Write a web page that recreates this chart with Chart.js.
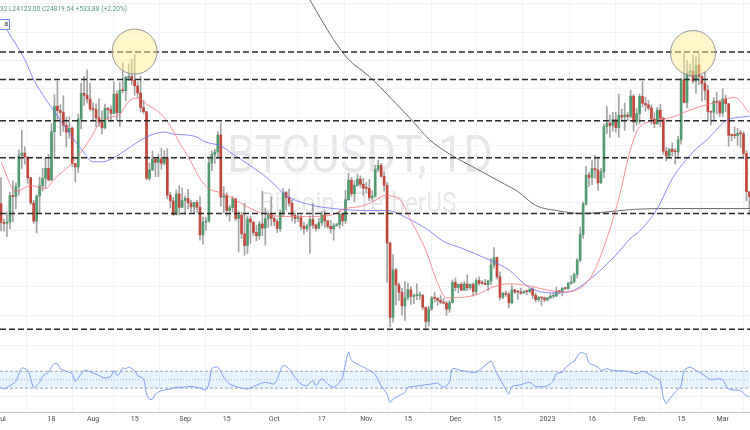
<!DOCTYPE html>
<html>
<head>
<meta charset="utf-8">
<title>BTCUSDT 1D</title>
<script src="https://cdn.jsdelivr.net/npm/chart.js@4.4.1/dist/chart.umd.min.js"></script>
<style>
  html, body { margin: 0; padding: 0; background: #fff; }
  #box { position: relative; width: 750px; height: 430px; overflow: hidden; }
  #legend { position: absolute; left: 0; top: 5px; font: 6.6px Roboto, sans-serif; line-height: 9px; color: #4f9a77; white-space: nowrap; }
  #tag { position: absolute; left: -4px; top: 19px; width: 11px; height: 9px; border: 1px solid #7089f4; background: #fff; font: 7px Roboto, sans-serif; line-height: 9px; text-align: right; color: #333; padding-right: 1px; }
</style>
</head>
<body>
<div id="box">
  <canvas id="chart" width="750" height="430"></canvas>
  <div id="legend">32 L24123.00 C24819.54 +533.88 (+2.20%)</div>
  <div id="tag">a</div>
</div>
<script>
// daily candles, index 0 = 2022-07-01, last = 2023-03-10
const firstOpen = 19942;
const closes = [
  // Jul
  19279,19243,19297,20231,20190,20548,21637,21731,21592,20860,19970,19323,20213,20569,20836,21190,20779,22485,23389,23231,23164,22714,22465,22609,21361,21239,22930,23843,23774,23643,23293,
  // Aug
  23269,22978,22819,22622,23312,23264,23135,23810,23150,23955,23935,24403,24442,24306,24102,23855,23342,23192,20835,21140,21516,21400,21530,21369,21561,20241,20038,19555,20285,19812,20050,
  // Sep
  20127,19969,19832,19986,19813,18838,19290,19329,21381,21681,21770,22370,20173,20226,19701,19803,20113,19416,19537,18875,18461,19401,19289,18920,18807,19227,19079,19412,19591,19422,
  // Oct
  19312,19057,19630,20337,20159,19955,19531,19418,19446,19142,19052,19157,19383,19185,19068,19268,19551,19335,19140,19053,19163,19205,19571,19330,20080,20772,20295,20591,20809,20627,20491,
  // Nov
  20483,20151,20207,21148,21299,20905,20591,18547,15922,17601,17070,16812,16330,16619,16900,16663,16692,16700,16700,16280,15781,16226,16603,16598,16522,16458,16428,16212,16442,17163,
  // Dec
  16978,17092,16885,17105,16967,17088,16836,17224,17128,17127,17085,17208,17774,18037,17357,16633,16777,16737,16439,16897,16824,16822,16779,16836,16833,16919,16707,16551,16634,16607,16542,
  // Jan
  16616,16672,16675,16850,16831,16950,16943,17127,17178,17440,17943,18847,19930,20954,20871,21185,21132,20677,21071,22667,22783,22707,22916,22632,23061,23009,23074,23022,23743,22827,23125,
  // Feb
  23732,23488,23431,23326,22932,22762,23249,22963,21796,21625,21862,21783,21773,22199,24324,23517,24569,24631,24271,24836,24439,24188,23947,23198,23175,23561,23523,23147,
  // Mar
  23646,23475,22362,22354,22346,22430,22409,21718,20363,20187
];
const highs = [
  20865,19400,19649,20354,20750,20675,21838,22527,21951,21600,20873,20059,20245,20882,21200,21588,21684,22777,23800,24276,23440,23756,22998,23014,22660,21361,23112,24199,24442,24668,24194,
  23510,23471,23647,23223,23462,23354,23400,24245,23920,24226,24920,24457,24889,25047,25212,24247,24447,23600,23203,21382,21800,21522,21680,21900,21820,21886,20340,20165,20432,20580,20490,
  20208,20445,20056,20000,20058,20180,19464,19450,21600,21800,21860,22488,22799,20542,20330,19890,20192,20117,19686,19635,19956,19500,19500,19311,19180,19318,20385,19790,19645,20185,
  19484,19395,19719,20475,20365,20456,20061,19621,19560,19529,19270,19220,19513,19952,19228,19425,19686,19707,19353,19346,19250,19257,19696,19601,20413,21020,20875,20750,20988,20931,20840,
  20700,20800,20393,21302,21480,21365,21069,20700,18590,18154,17655,17143,16950,17190,17134,17015,16751,17109,16820,16735,16290,16315,16674,16812,16613,16699,16600,16485,16522,17249,
  17320,17105,17158,17202,17425,17107,17142,17299,17360,17227,17270,17241,18000,18387,18050,17530,16796,16864,16819,17061,16916,16867,16955,16868,16865,16940,16972,16785,16664,16644,16647,
  16630,16760,16782,16991,16879,16991,16965,17176,17398,17490,18000,19117,20000,21258,21050,21474,21650,21600,21188,22755,23371,23078,23165,23180,23816,23282,23500,23165,23960,23800,23320,
  23812,24255,23715,23587,23433,23158,23350,23452,22995,21940,21904,22090,21890,22322,24380,25250,25021,24877,25190,25121,25250,24476,24600,24123,23218,23689,23880,23600,
  24000,23780,23476,22410,22662,22604,22533,22480,21821,20369
];
const lows = [
  18975,18966,18781,19055,19304,19761,20239,21189,21338,20654,19909,19240,18910,19616,20383,20475,20755,20762,21580,22906,22341,22500,21950,22257,21250,20706,21042,22582,23414,23502,23227,
  22850,22655,22681,22400,22586,22910,22840,23120,22880,22665,23855,23580,24296,24140,23773,23695,23180,23110,20783,20761,21106,20890,20890,21160,21310,20107,19800,19520,19540,19540,19797,
  19565,19755,19650,19600,19635,18650,18510,19000,19291,21111,21360,21540,19860,19617,19497,19320,19637,19335,18235,18711,18125,18180,18534,18817,18629,18680,18816,18471,19101,19155,
  19159,18920,18959,19493,19730,19853,19320,19255,19309,19025,18860,18965,18190,19070,18975,19065,19160,19100,19071,18900,18650,19135,19070,19157,19240,20060,20200,20000,20552,20514,20237,
  20330,20048,20031,20180,21080,20880,20384,17166,15588,15754,16361,16526,16001,15815,16527,16378,16410,16549,16560,16186,15476,15617,16160,16458,16350,16408,16399,15995,16100,16428,
  16855,16788,16870,16878,16867,16905,16678,16733,17058,17092,17071,16871,17080,17660,17275,16527,16582,16667,16256,16397,16759,16560,16742,16773,16721,16787,16592,16470,16487,16333,16470,
  16499,16572,16606,16662,16754,16678,16908,16911,17094,17142,17316,17892,18714,19888,20552,20611,20834,20407,20654,20861,22422,22292,22500,22467,22292,22850,22534,22877,22974,22500,22714,
  22760,23363,23206,23253,22745,22628,22745,22665,21688,21451,21599,21630,21351,21532,22047,23505,23339,24430,24192,23840,24150,23574,23608,22862,22722,22906,23106,23020,
  23020,23195,21971,22157,22250,22000,21927,21580,20042,19549
];

// moving averages (day index, price)
const sma20Days = [0,5,10,15,18,23,27,30,33,37,40,43,46,49,54,57,60,64,67,70,74,77,84,91,97,104,111,116,121,126,129,134,138,143,147,150,160,165,171,176,184,189,193,199,204,208,212,215,220,226,231,236,242,247,252];
const sma20Vals = [21420,20370,20580,20470,20820,21280,21770,22230,22750,23000,23100,23560,23670,23460,23100,22680,22120,21420,20820,20470,20330,20190,19770,19530,19490,19490,19530,19770,19840,20050,20230,20120,19350,18300,17140,16610,16720,16970,17110,17070,16890,16820,16860,17420,18720,20120,21880,22650,22860,23000,23210,23390,23560,23700,23150];
const sma50Days = [0,2,8,11,19,27,31,34,39,44,49,55,58,65,69,74,78,84,90,96,105,112,123,130,137,143,149,155,163,171,177,182,187,193,200,207,212,215,221,226,233,238,244,252];
const sma50Vals = [26470,26090,25040,24330,23040,21880,21420,21420,21630,21980,22300,22470,22400,22330,22120,21980,21700,21280,20820,20230,19880,19770,19700,19700,19420,19070,18610,18370,18020,17600,17040,16820,16790,16890,17420,18120,18720,18970,19770,20820,21770,22230,22860,23040];
const sma200Days = [99,104,112,117,124,131,138,144,151,160,168,174,180,187,195,202,213,230,252];
const sma200Vals = [28020,27140,25740,25040,24440,23700,22930,22230,21700,21180,20720,20370,19880,19700,19600,19630,19740,19770,19770];

// RSI pane
const rsiDays = [0,1,3,5,6,7,9,10,11,13,14,16,17,18,19,20,22,24,25,27,28,29,31,33,35,37,38,39,40,41,42,43,45,46,48,49,50,51,52,54,57,59,61,64,67,69,70,71,73,75,77,80,83,87,89,92,93,95,97,99,101,103,105,106,108,110,112,114,115,117,118,122,125,126,128,130,131,132,134,136,137,139,143,145,147,149,151,152,155,160,165,166,167,169,171,172,175,178,180,183,185,186,187,189,190,192,193,195,197,198,201,202,204,206,211,214,216,218,221,222,223,224,225,227,229,230,232,234,236,239,241,243,245,249,251,252];
const rsiVals = [42,39,43,48,57,64,61,51,41,47,54,59,65,69,69,63,60,57,48,57,61,61,58,55,52,54,61,55,58,64,63,65,61,55,51,33,27,27,33,37,39,41,41,42,40,38,45,63,65,53,45,41,39,45,47,45,51,67,63,53,45,43,49,43,51,45,41,47,53,83,73,65,59,56,43,33,23,27,31,35,41,42,44,45,46,41,47,63,61,59,72,65,57,45,33,42,44,47,42,42,45,49,57,59,64,70,72,82,80,70,65,61,63,61,60,57,60,57,51,49,29,22,27,35,43,61,65,61,57,50,51,50,39,37,31,30];
const rsiBands = [60, 50, 40];

// drawings
const levels = [25305, 24333, 22870, 21561, 19596, 15503];
const circleDays = [45, 233];
const circlePrices = [25316, 25265];

const tickDays = [0,17,31,45,62,76,92,108,123,137,153,167,184,199,215,229,243];
const tickLabels = ['Jul','18','Aug','15','Sep','15','Oct','17','Nov','15','Dec','15','2023','16','Feb','15','Mar'];

const X_MIN = -0.337, X_MAX = 252.19;
const Y_MIN = 12579, Y_MAX = 27140;
const R_MIN = 11.76, R_MAX = 500;

const UP = '#4f9a6f', DOWN = '#c4463a', WICK = '#a3a3a3', GRID = '#f0f3fa';

const opens = closes.map((c, i) => i === 0 ? firstOpen : closes[i - 1]);
const bodies = closes.map((c, i) => ({ x: i, y: [opens[i], c] }));
const wicks = closes.map((c, i) => ({ x: i, y: [lows[i], highs[i]] }));
const bodyColors = closes.map((c, i) => c >= opens[i] ? UP : DOWN);
const pts = (days, vals) => days.map((d, i) => ({ x: d, y: vals[i] }));
const flat = v => [{ x: X_MIN, y: v }, { x: X_MAX, y: v }];

const maLine = (data, color, order) => ({
  type: 'line', data, borderColor: color, borderWidth: 1, pointRadius: 0,
  tension: 0.4, cubicInterpolationMode: 'monotone', order
});

const datasets = [
  { type: 'bar', data: wicks, backgroundColor: WICK, barThickness: 1, grouped: false, order: 9 },
  { type: 'bar', data: bodies, backgroundColor: bodyColors, barThickness: 2, minBarLength: 1, grouped: false, order: 8 },
  maLine(pts(sma20Days, sma20Vals), 'rgba(247,110,115,0.75)', 6),
  maLine(pts(sma50Days, sma50Vals), 'rgba(110,110,245,0.8)', 6),
  maLine(pts(sma200Days, sma200Vals), '#6b6b6b', 6),
  {
    type: 'line', yAxisID: 'yR', data: flat(rsiBands[0]), borderColor: '#a3a6ae', borderWidth: 1,
    borderDash: [3, 2], pointRadius: 0, fill: { value: rsiBands[2] }, backgroundColor: 'rgba(33,150,243,0.11)', order: 10
  },
  { type: 'line', yAxisID: 'yR', data: flat(rsiBands[1]), borderColor: '#b9bcc3', borderWidth: 1, borderDash: [1, 2], pointRadius: 0, order: 10 },
  { type: 'line', yAxisID: 'yR', data: flat(rsiBands[2]), borderColor: '#a3a6ae', borderWidth: 1, borderDash: [3, 2], pointRadius: 0, order: 10 },
  { type: 'line', yAxisID: 'yR', data: pts(rsiDays, rsiVals), borderColor: '#7b9cf5', borderWidth: 1, pointRadius: 0, tension: 0.25, order: 5 },
  ...levels.map(v => ({
    type: 'line', data: flat(v), borderColor: '#2b2b2b', borderWidth: 1.5, borderDash: [6, 3], pointRadius: 0, order: 3
  })),
  {
    type: 'line', data: pts(circleDays, circlePrices), showLine: false, pointRadius: 22.5,
    pointBackgroundColor: 'rgba(255,238,150,0.5)', pointBorderColor: 'rgba(140,140,140,0.9)', pointBorderWidth: 1, order: 1
  }
];

// faint symbol watermark behind everything
function squashedText(ctx, text, font, cx, baseline, width) {
  ctx.save();
  ctx.font = font;
  const w = ctx.measureText(text).width;
  ctx.translate(cx, baseline);
  ctx.scale(width / w, 1);
  ctx.fillText(text, 0, 0);
  ctx.restore();
}
const watermark = {
  id: 'watermark',
  beforeDraw(chart) {
    const ctx = chart.ctx;
    ctx.save();
    ctx.fillStyle = 'rgba(120,123,134,0.19)';
    ctx.textAlign = 'center';
    ctx.textBaseline = 'alphabetic';
    squashedText(ctx, 'BTCUSDT, 1D', '52px Roboto', 360, 172, 266);
    squashedText(ctx, 'Bitcoin / TetherUS', '28px Roboto', 358, 212, 197);
    ctx.restore();
  }
};

new Chart('chart', {
  data: { datasets },
  plugins: [watermark],
  options: {
    responsive: false,
    animation: false,
    events: [],
    layout: { autoPadding: false, padding: { left: 0, right: 0, top: 0, bottom: 3.6 } },
    plugins: { legend: { display: false }, tooltip: { enabled: false } },
    scales: {
      x: {
        type: 'linear', min: X_MIN, max: X_MAX, offset: false,
        afterBuildTicks: s => { s.ticks = tickDays.map(v => ({ value: v })); },
        afterFit: s => { s.paddingLeft = 0; s.paddingRight = 0; },
        ticks: {
          autoSkip: false, maxRotation: 0, padding: 3, color: '#4a4d57',
          font: { family: 'Roboto', size: 7 },
          callback: (v, i) => tickLabels[i]
        },
        grid: { color: GRID, drawTicks: false },
        border: { display: true, color: '#c3c5cb' }
      },
      y: {
        type: 'linear', position: 'left', min: Y_MIN, max: Y_MAX,
        afterBuildTicks: s => {
          const t = [];
          for (let v = 16000; v <= 27000; v += 1000) t.push({ value: v });
          s.ticks = t;
        },
        afterFit: s => { s.width = 0; },
        ticks: { display: false },
        grid: { color: GRID, drawTicks: false },
        border: { display: false }
      },
      yR: {
        type: 'linear', position: 'right', min: R_MIN, max: R_MAX,
        afterBuildTicks: s => { s.ticks = [{ value: 30 }, { value: 90 }]; },
        afterFit: s => { s.width = 0; },
        ticks: { display: false },
        grid: { color: GRID, drawTicks: false },
        border: { display: false }
      }
    }
  }
});
</script>
</body>
</html>
